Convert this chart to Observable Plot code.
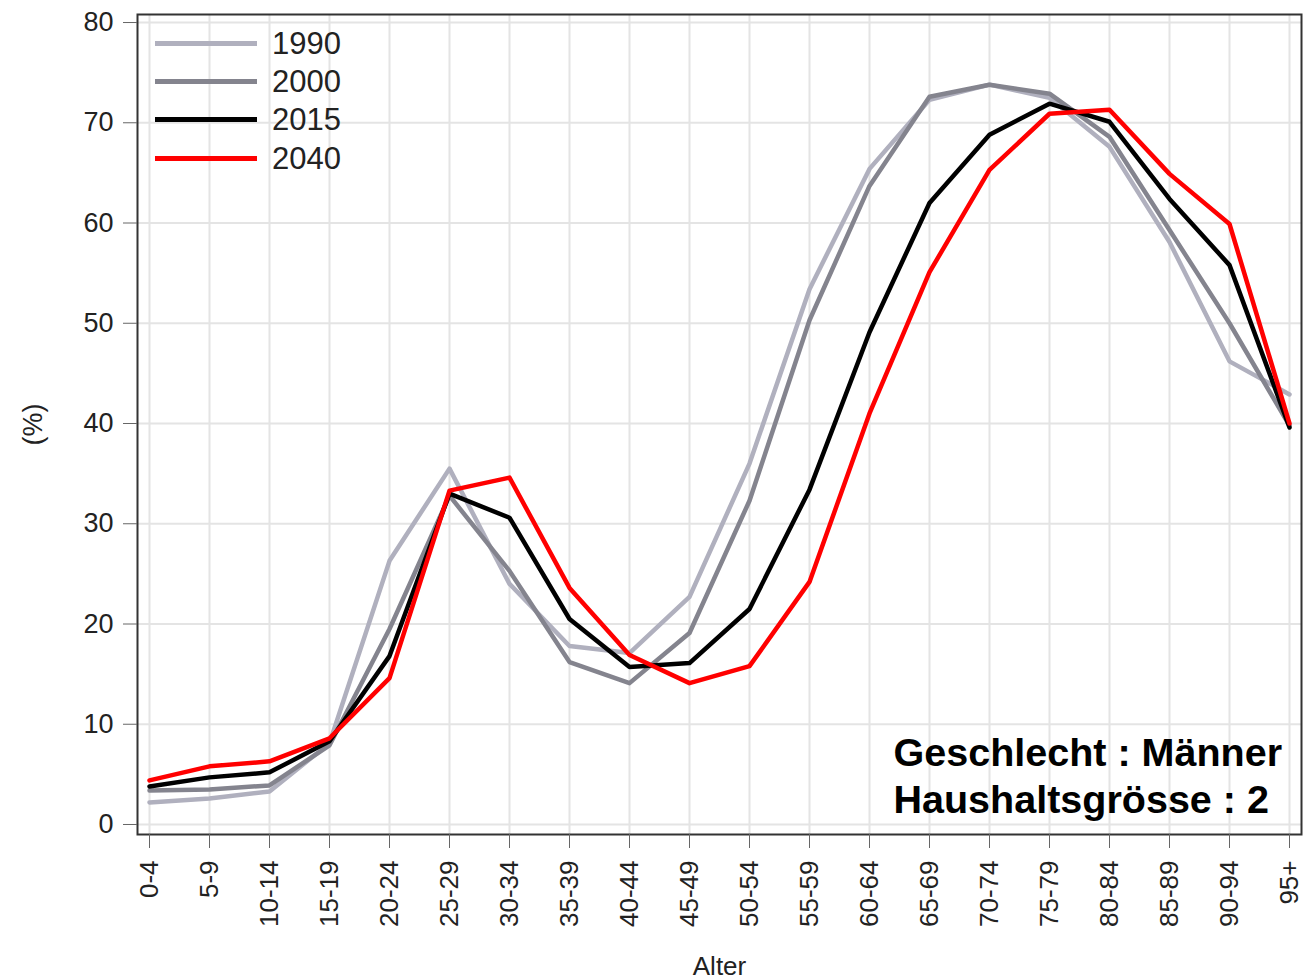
<!DOCTYPE html>
<html><head><meta charset="utf-8">
<script src="https://cdn.jsdelivr.net/npm/d3@7"></script>
<script src="https://cdn.jsdelivr.net/npm/@observablehq/plot@0.6"></script>
<style>
body{margin:0;background:#fff;}
#wrap{position:relative;width:1309px;height:980px;font-family:"Liberation Sans",Arial,sans-serif;}
#legend{position:absolute;left:155px;top:24px;}
.row{display:flex;align-items:center;height:38.3px;}
.sw{width:102px;height:5px;margin-right:15px;}
.lab{font-size:31px;color:#222;line-height:1;}
</style></head><body><div id="wrap"></div>
<script>
const ageGroups = ["0-4","5-9","10-14","15-19","20-24","25-29","30-34","35-39","40-44","45-49","50-54","55-59","60-64","65-69","70-74","75-79","80-84","85-89","90-94","95+"];
const years = ["1990","2000","2015","2040"];
const v1990 = [2.2, 2.6, 3.3, 8.1, 26.3, 35.5, 24.0, 17.8, 17.1, 22.7, 36.0, 53.4, 65.4, 72.3, 73.8, 72.5, 67.6, 58.1, 46.2, 42.9];
const v2000 = [3.4, 3.5, 3.9, 7.9, 19.5, 32.8, 25.3, 16.2, 14.1, 19.1, 32.3, 50.3, 63.7, 72.6, 73.8, 72.9, 68.6, 59.3, 50.0, 39.8];
const v2015 = [3.8, 4.7, 5.2, 8.3, 16.8, 33.0, 30.6, 20.5, 15.7, 16.1, 21.5, 33.4, 49.1, 62.0, 68.8, 71.9, 70.1, 62.4, 55.8, 39.6];
const v2040 = [4.4, 5.8, 6.3, 8.6, 14.6, 33.3, 34.6, 23.6, 16.9, 14.1, 15.8, 24.2, 41.0, 55.1, 65.3, 70.9, 71.3, 64.9, 59.9, 40.0];
const yTicks = [0,10,20,30,40,50,60,70,80];
const colors = ["#b0b0be","#84848e","#000000","#ff0000"];
const annotation = "Geschlecht : Männer\nHaushaltsgrösse : 2";

const series = [v1990, v2000, v2015, v2040];
const data = years.flatMap((yr, i) => ageGroups.map((a, j) => ({year: yr, age: a, value: series[i][j]})));

const font = '"Liberation Sans", Arial, sans-serif';
const chart = Plot.plot({
  width: 1309, height: 980,
  marginLeft: 137, marginRight: 8, marginTop: 14, marginBottom: 146,
  style: {fontFamily: font, background: "#fff", color: "#222"},
  x: {type: "point", domain: ageGroups, padding: 0.166},
  y: {domain: [-0.998, 80.8]},
  color: {domain: years, range: colors},
  marks: [
    Plot.gridX(ageGroups, {stroke: "#e4e4e4", strokeOpacity: 1, strokeWidth: 2}),
    Plot.gridY(yTicks, {stroke: "#e4e4e4", strokeOpacity: 1, strokeWidth: 2}),
    Plot.lineY(data, {x: "age", y: "value", z: "year", stroke: "year", strokeWidth: 4.5}),
    Plot.frame({stroke: "#333", strokeWidth: 2}),
    Plot.axisY(yTicks, {tickSize: 14, tickPadding: 10, fontSize: 27, stroke: "#666", color: "#222",
      label: "(%)", labelAnchor: "center", labelOffset: 115, labelArrow: "none"}),
    Plot.axisX({tickSize: 14, tickPadding: 12, tickRotate: -90, fontSize: 26, stroke: "#666", color: "#222",
      label: "Alter", labelAnchor: "center", labelOffset: 140, labelArrow: "none"}),
    Plot.text([annotation], {frameAnchor: "bottom-left", dx: 756, dy: -22, textAnchor: "start", lineAnchor: "bottom",
      fontSize: 39.5, fontWeight: "bold", lineHeight: 1.19, fill: "#000"})
  ]
});
const wrap = document.getElementById("wrap");
wrap.appendChild(chart);
const legend = document.createElement("div");
legend.id = "legend";
years.forEach((yr, i) => {
  const row = document.createElement("div");
  row.className = "row";
  const sw = document.createElement("div");
  sw.className = "sw";
  sw.style.background = colors[i];
  const lab = document.createElement("span");
  lab.className = "lab";
  lab.textContent = yr;
  row.appendChild(sw); row.appendChild(lab);
  legend.appendChild(row);
});
wrap.appendChild(legend);
</script></body></html>
